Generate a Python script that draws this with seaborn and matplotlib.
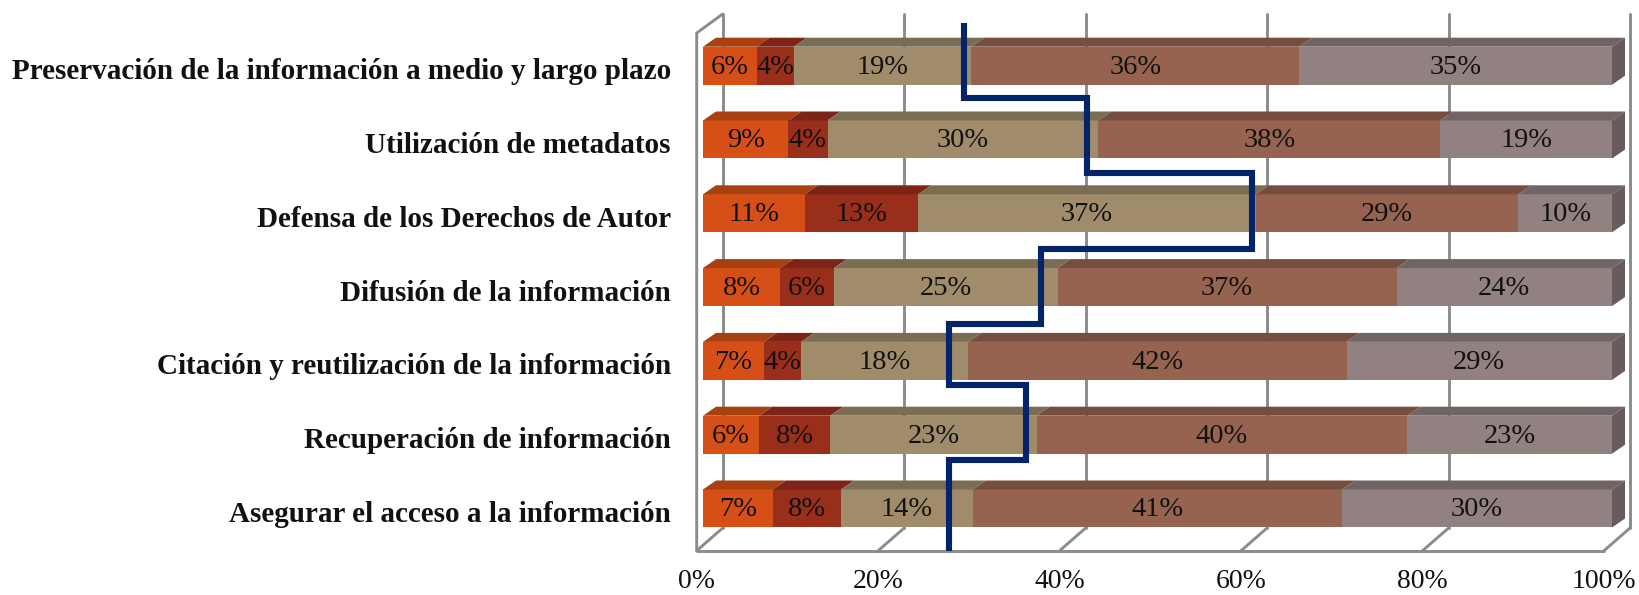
import numpy as np
import matplotlib
matplotlib.use("Agg")
import matplotlib.pyplot as plt
import seaborn as sns
from matplotlib.patches import Polygon
from matplotlib.transforms import ScaledTranslation

OUTPUT_FILE = "out.png"

categories = [
    "Preservación de la información a medio y largo plazo",
    "Utilización de metadatos",
    "Defensa de los Derechos de Autor",
    "Difusión de la información",
    "Citación y reutilización de la información",
    "Recuperación de información",
    "Asegurar el acceso a la información",
]
# printed labels
labels_a = [6, 9, 11, 8, 7, 6, 7]
labels_b = [4, 4, 13, 6, 4, 8, 8]
labels_c = [19, 30, 37, 25, 18, 23, 14]
labels_d = [36, 38, 29, 37, 42, 40, 41]
labels_e = [35, 19, 10, 24, 29, 23, 30]

# segment lengths as measured on the bars
widths_a = [5.9, 9.4, 11.2, 8.5, 6.7, 6.2, 7.7]
widths_b = [4.1, 4.3, 12.5, 5.9, 4.1, 7.8, 7.5]
widths_c = [19.5, 29.8, 37.1, 24.6, 18.4, 22.7, 14.5]
widths_d = [36.1, 37.6, 28.9, 37.3, 41.6, 40.8, 40.6]
widths_e = [34.4, 18.9, 10.3, 23.7, 29.2, 22.5, 29.7]

# blue stepped line
step_values = [28.7, 42.2, 60.4, 37.2, 27.1, 35.5, 27.1]
step_breaks = [-0.58, 0.44, 1.46, 2.48, 3.50, 4.33, 5.34, 6.60]

tick_values = [0, 20, 40, 60, 80, 100]
tick_labels = ["0%", "20%", "40%", "60%", "80%", "100%"]

front_colors = ["#D64F17", "#992E1B", "#A08C6B", "#966351", "#928181"]
top_colors = ["#A8400F", "#7C2416", "#7B6C54", "#764E40", "#716464"]
side_color = "#675B5C"
line_color = "#03246B"
wall_color = "#8C8C8C"

W, H = 1639, 595
AX_LEFT, BAR_LEFT, BAR_RIGHT = 690, 703, 1612
FIRST_CENTER, PITCH = 65.7, 73.8
FLOOR_Y, TOP_Y = 550.7, 14


def px_x(px):
    return (px - BAR_LEFT) / (BAR_RIGHT - BAR_LEFT) * 100


def px_y(py):
    return (py - FIRST_CENTER) / PITCH


sns.set_style("white")
plt.rcParams["font.family"] = ["Liberation Serif", "DejaVu Serif"]

fig = plt.figure(figsize=(W / 100, H / 100), dpi=100)
ax = fig.add_axes([AX_LEFT / W, 1 - FLOOR_Y / H, (BAR_RIGHT - AX_LEFT) / W, (FLOOR_Y - TOP_Y) / H])

# bars, stacked
all_widths = [widths_a, widths_b, widths_c, widths_d, widths_e]
all_labels = [labels_a, labels_b, labels_c, labels_d, labels_e]
lefts = np.zeros(len(categories))
bar_height = 38 / PITCH
dx, dy = 13 / 9.09, 9 / PITCH
for values, labels, front, top in zip(all_widths, all_labels, front_colors, top_colors):
    values = np.array(values, dtype=float)
    sns.barplot(x=values, y=categories, left=lefts, color=front, saturation=1,
                width=bar_height, orient="h", edgecolor="none", zorder=3, ax=ax)
    for i, (l, v, lab) in enumerate(zip(lefts, values, labels)):
        t = i - bar_height / 2
        ax.add_patch(Polygon([(l, t), (l + v, t), (l + v + dx, t - dy), (l + dx, t - dy)],
                             closed=True, fc=top, ec="none", zorder=3, clip_on=False))
        ax.text(l + v / 2, i + 0.02, f"{lab}%", ha="center", va="center",
                fontsize=20.5, color="#111111", zorder=4)
    lefts = lefts + values

# right end of every bar
for i, end in enumerate(lefts):
    t, b = i - bar_height / 2, i + bar_height / 2
    ax.add_patch(Polygon([(end, t), (end + dx, t - dy), (end + dx, b - dy), (end, b)],
                         closed=True, fc=side_color, ec="none", zorder=3, clip_on=False))

# the 3d box walls
wall_kw = dict(color=wall_color, lw=2.1, clip_on=False, zorder=1, solid_capstyle="round")
front_x0, back_x0 = px_x(696.7), px_x(722.7)
scale = (1630 - 722.7) / (BAR_RIGHT - BAR_LEFT)
back_y = px_y(528)
for p in tick_values:
    bx = back_x0 + p * scale
    fx = front_x0 + p * scale
    ax.plot([bx, bx], [px_y(TOP_Y), back_y], **wall_kw)
    ax.plot([bx, fx], [back_y, px_y(FLOOR_Y)], **wall_kw)
ax.plot([front_x0, front_x0 + 100 * scale], [px_y(FLOOR_Y)] * 2, **wall_kw)
ax.plot([front_x0, front_x0, back_x0], [px_y(FLOOR_Y), px_y(33), px_y(TOP_Y)], **wall_kw)

# blue line goes over everything
xs = np.repeat(step_values, 2)
ys = np.column_stack([step_breaks[:-1], step_breaks[1:]]).ravel()
sns.lineplot(x=xs, y=ys, sort=False, estimator=None, color=line_color, lw=4.4, zorder=5,
             solid_joinstyle="miter", solid_capstyle="butt", ax=ax)

ax.set_xticks([front_x0 + p * scale for p in tick_values])
ax.set_xticklabels(tick_labels, fontsize=20, color="#111111")
ax.set_yticks(range(len(categories)))
ax.set_yticklabels(categories, fontsize=21, fontweight="bold", color="#111111")
ax.tick_params(axis="x", length=0, pad=13.5)
ax.tick_params(axis="y", length=0, pad=13.7)
# Garamond-ish labels sit a little lower in the reference
for label in ax.get_yticklabels():
    label.set_transform(label.get_transform() + ScaledTranslation(0, -3 / 100, fig.dpi_scale_trans))
# limits last, set_xticks widens them otherwise
ax.set_xlim(px_x(AX_LEFT), 100)
ax.set_ylim(px_y(FLOOR_Y), px_y(TOP_Y))
ax.set_xlabel("")
ax.set_ylabel("")
ax.grid(False)
for spine in ax.spines.values():
    spine.set_visible(False)
ax.patch.set_alpha(0)

fig.savefig(OUTPUT_FILE, dpi=100)
plt.close(fig)
